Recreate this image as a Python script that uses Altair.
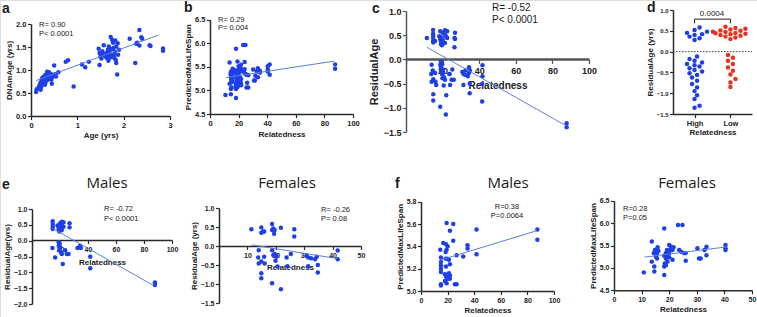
import altair as alt
import pandas as pd

BLUE = "#1f3fe6"
RED = "#e8331f"
FIT = "#5b7fe0"
AX = "#2a2a2a"
FONT = "Liberation Sans"
TITLE_FONT = "Open Sans"

# ---------- a: chronological age vs DNAm age ----------
a_age = [0.11, 0.12, 0.14, 0.18, 0.20, 0.21, 0.22, 0.23, 0.24, 0.25, 0.26, 0.27, 0.28, 0.29,
         0.30, 0.30, 0.31, 0.32, 0.33, 0.34, 0.34, 0.35, 0.36, 0.37, 0.38, 0.39, 0.40, 0.41,
         0.42, 0.43, 0.44, 0.44, 0.45, 0.46, 0.48, 0.50, 0.52, 0.54, 0.59, 0.25, 0.28, 0.32,
         0.36, 0.22, 0.27, 0.31, 0.35, 0.38,
         0.75, 0.80, 0.92, 1.10, 1.17, 1.25,
         1.46, 1.48, 1.48, 1.50, 1.52, 1.54, 1.57, 1.58, 1.60, 1.62, 1.63, 1.64, 1.66, 1.67,
         1.68, 1.69, 1.70, 1.71, 1.72, 1.73, 1.75, 1.76, 1.77, 1.78, 1.79, 1.80, 1.81, 1.82,
         1.83, 1.84, 1.84, 1.86, 1.87, 1.88, 1.90, 1.55, 1.65,
         2.13, 2.25, 2.27, 2.29, 2.34, 2.34, 2.38, 2.40, 2.56, 2.58, 2.85, 2.85]
a_dnam = [0.52, 0.57, 0.60, 0.66, 0.72, 0.57, 0.63, 0.77, 0.82, 0.73, 0.70, 0.85, 0.80, 0.76,
          0.88, 0.68, 0.80, 0.76, 0.84, 0.92, 0.82, 0.78, 0.87, 0.80, 0.84, 0.95, 0.86, 0.88,
          0.82, 0.90, 0.90, 0.79, 0.70, 0.85, 0.88, 1.10, 0.91, 0.86, 0.95, 0.78, 0.74, 0.89,
          0.93, 0.67, 0.81, 0.72, 0.96, 0.86,
          1.18, 1.21, 0.64, 1.12, 1.06, 1.18,
          1.46, 1.37, 1.11, 1.30, 1.25, 1.41, 1.54, 1.33, 1.31, 1.28, 1.37, 1.26, 1.44, 1.20,
          1.51, 1.34, 1.37, 1.27, 1.72, 1.45, 1.66, 1.30, 1.59, 1.48, 1.33, 1.26, 1.40, 1.64,
          1.22, 1.51, 1.15, 0.90, 1.58, 1.33, 1.44, 1.35, 1.32,
          1.68, 1.15, 1.57, 1.59, 1.53, 1.87, 1.71, 1.68, 1.54, 1.52, 1.47, 1.42]
a_fit_x = [0.11, 2.75]
a_fit_y = [0.77, 1.76]

# ---------- e: relatedness vs residual age, by sex ----------
em_rel = [14.8, 14.8, 14.8, 14.8, 18.2, 19.1, 19.6, 20.1, 21.3, 21.3, 22.5, 20.1, 19.1, 26.8,
          26.8, 22.5, 21.3, 18.9,
          14.6, 16.5, 19.1, 19.1, 19.6, 20.8, 21.3, 20.1, 22.0, 23.7, 24.9, 26.1, 32.5, 34.4,
          34.9, 41.6, 41.6, 87.8, 87.8, 19.8]
em_res = [0.61, 0.53, 0.44, 0.37, 0.48, 0.37, 0.29, 0.55, 0.51, 0.60, 0.44, 0.40, 0.32, 0.55,
          0.42, 0.58, 0.34, 0.44,
          -0.23, -0.53, -0.05, -0.16, -0.30, -0.37, -0.42, -0.21, -0.74, -0.30, -0.42, -0.42,
          -0.23, -0.16, -0.23, -0.51, -0.87, -1.32, -1.40, -0.10]
ef_rel = [11.4, 14.9, 15.5, 14.9, 15.9, 18.7, 19.1, 19.6, 18.7, 19.4, 21.8, 26.5, 26.5,
          14.0, 13.8, 14.0, 14.9, 15.9, 16.1, 14.9, 14.9, 18.7, 19.1, 19.6, 20.2, 20.2, 19.9,
          18.7, 21.8, 23.8, 25.3, 24.1, 30.8, 31.4, 32.4, 33.8, 34.4, 34.8, 34.8, 41.8, 41.8,
          31.4, 20.6]
ef_res = [0.44, 0.49, 0.38, 0.35, 0.38, 0.58, 0.46, 0.42, 0.42, 0.32, 0.48, 0.44, 0.25,
          -0.11, -0.30, -0.46, -0.41, -0.28, -0.46, -0.72, -0.85, -0.11, -0.24, -0.21, -0.24,
          -0.28, -0.39, -0.98, -1.14, -0.30, -0.21, -0.53, -0.26, -0.30, -0.32, -0.35, -0.28,
          -0.50, -0.70, -0.12, -0.35, -0.53, -0.54]
em_fit_x = [15, 87]
em_fit_y = [0.38, -1.42]
ef_fit_x = [11.5, 41.5]
ef_fit_y = [0.03, -0.33]

# ---------- f: relatedness vs predicted max lifespan, by sex ----------
fm_rel = [19.25, 24.25, 21.75, 41.75, 87.5, 87.5, 16.75, 18.75, 24.25, 20.0, 19.25, 14.5, 18.5,
          35.0, 35.0, 41.75, 26.75, 31.75, 15.0, 18.5, 21.0, 20.0, 15.0, 15.0, 21.75, 15.0, 15.0,
          18.75, 21.0, 21.75, 18.75, 20.0, 18.0, 21.75, 19.25, 15.0, 15.0, 25.5, 26.75, 18.0]
fm_pml = [5.61, 5.60, 5.54, 5.55, 5.55, 5.46, 5.43, 5.42, 5.45, 5.40, 5.37, 5.37, 5.35,
          5.41, 5.38, 5.33, 5.32, 5.31, 5.30, 5.29, 5.28, 5.29, 5.26, 5.23, 5.24, 5.20, 5.17,
          5.22, 5.16, 5.14, 5.13, 5.11, 5.09, 5.11, 5.07, 5.06, 5.05, 5.06, 5.06, 5.15]
ff_rel = [10.8, 13.7, 13.7, 14.4, 14.6, 14.6, 14.8, 15.6, 15.6, 15.8, 16.1, 15.2, 15.6, 18.2,
          18.2, 18.4, 18.2, 18.2, 18.8, 18.8, 19.2, 19.4, 19.4, 18.8, 20.0, 20.4, 20.6, 20.0,
          20.0, 21.2, 21.2, 21.6, 23.2, 24.8, 23.6, 24.4, 25.4, 26.0, 26.0, 30.2, 30.8, 31.4,
          32.8, 33.5, 33.5, 40.4, 40.4, 40.4]
ff_pml = [4.90, 5.59, 5.14, 5.33, 5.03, 4.92, 5.40, 5.41, 5.33, 5.46, 5.38, 5.25, 5.21, 5.88,
          5.27, 5.10, 5.03, 4.84, 5.33, 5.21, 5.40, 5.25, 5.14, 5.06, 5.51, 5.40, 5.47, 5.33,
          5.24, 5.40, 5.18, 5.46, 5.96, 5.96, 5.40, 5.36, 5.33, 5.33, 5.16, 5.44, 5.21, 5.21,
          5.40, 5.47, 5.28, 5.51, 5.44, 5.40]
fm_fit_x = [15.5, 87]
fm_fit_y = [5.28, 5.54]
ff_fit_x = [11, 41]
ff_fit_y = [5.24, 5.47]

# ---------- b / c: both sexes pooled ----------
b_rel = fm_rel + ff_rel
b_pml = fm_pml + ff_pml
b_fit_x = [11, 87]
b_fit_y = [5.27, 5.62]
c_rel = em_rel + ef_rel
c_res = em_res + ef_res
c_fit_x = [11.5, 87]
c_fit_y = [0.25, -1.36]

# ---------- d: residual age by relatedness group ----------
d_groups = ["High", "Low"]
d_high = [0.58, 0.52, 0.48, 0.45, 0.42, 0.40, 0.36, 0.32, 0.28, -0.12, -0.18, -0.22, -0.26,
          -0.30, -0.33, -0.36, -0.40, -0.44, -0.48, -0.52, -0.56, -0.62, -0.70, -0.78, -0.86,
          -0.95, -1.05, -1.14, -1.30, -1.35]
d_low = [0.60, 0.57, 0.55, 0.53, 0.51, 0.50, 0.48, 0.47, 0.45, 0.44, 0.43, 0.42, 0.40, 0.38,
         0.36, 0.34, 0.30, -0.08, -0.15, -0.22, -0.30, -0.38, -0.46, -0.55, -0.66, -0.74, -0.85]
d_pvalue = "0.0004"

W, H = 757, 317
DOT = 20


def scale(domain, rng):
    return alt.Scale(domain=domain, range=rng, nice=False, zero=False)


def axis(orient, offset, values, title, fmt=None, lab=7.5, tit=8, hide_zero=False,
         dom_w=1.5, dom_c=AX, label_expr=None, tick=3.5, lpad=1.5, tpad=2):
    kw = dict(orient=orient, offset=offset, values=values, title=title, grid=False,
              tickSize=tick, tickWidth=1.2, tickColor=dom_c, domainColor=dom_c,
              domainWidth=dom_w, labelFont=FONT, labelFontSize=lab, labelFontWeight="bold",
              labelColor="#222", titleFont=FONT, titleFontSize=tit, titleFontWeight="bold",
              titleColor="#222", labelPadding=lpad, titlePadding=tpad, minExtent=0,
              labelFlush=False, labelOverlap=False)
    if fmt:
        kw["format"] = fmt
    if hide_zero:
        kw["labelExpr"] = "datum.value == 0 ? '' : datum.label"
    if label_expr:
        kw["labelExpr"] = label_expr
    return alt.Axis(**kw)


def points(xv, yv, xs, ys, xa=None, ya=None, color=BLUE, size=DOT):
    df = pd.DataFrame({"x": xv, "y": yv})
    return alt.Chart(df).mark_circle(size=size, color=color, opacity=1).encode(
        x=alt.X("x:Q", scale=xs, axis=xa), y=alt.Y("y:Q", scale=ys, axis=ya))


def fit(xv, yv, xs, ys):
    df = pd.DataFrame({"x": xv, "y": yv})
    return alt.Chart(df).mark_line(color=FIT, strokeWidth=1).encode(
        x=alt.X("x:Q", scale=xs, axis=None), y=alt.Y("y:Q", scale=ys, axis=None))


def label(s, x, y, size=7.5, weight="normal", align="left", font=FONT):
    return alt.Chart(pd.DataFrame({"t": [s]})).mark_text(
        text=s, fontSize=size, fontWeight=weight, align=align, baseline="middle",
        font=font, color="#1a1a1a").encode(x=alt.value(x), y=alt.value(y))


def swarm(vals, py, px, d=5.0):
    """Beeswarm offsets (in x data units) so dots at similar values don't overlap."""
    order = sorted(range(len(vals)), key=lambda i: vals[i])
    placed, out = [], [0.0] * len(vals)
    for i in order:
        yy = vals[i] * py
        xx = 0.0
        for k in [0, 1, -1, 2, -2, 3, -3, 4, -4, 5, -5, 6, -6, 7, -7]:
            xx = k * d * 0.5
            if all((xx - a) ** 2 + (yy - b) ** 2 >= (d * 0.9) ** 2 for a, b in placed):
                break
        placed.append((xx, yy))
        out[i] = xx / px
    return out


layers = []

# panel a
xs, ys = scale([0, 3], [31, 170]), scale([0, 2], [116, 24])
layers.append(points(a_age, a_dnam, xs, ys,
                     axis("bottom", 116 - H, [0, 1, 2, 3], "Age (yrs)", tpad=3),
                     axis("left", -31, [0, 0.5, 1, 1.5, 2], "DNAmAge (yrs)", fmt=".1f")))
layers.append(fit(a_fit_x, a_fit_y, xs, ys))
layers += [label("a", 2, 9, 14, "bold"), label("R= 0.90", 39, 24.5), label("P< 0.0001", 39, 34)]

# panel b
xs, ys = scale([0, 100], [210, 353]), scale([4.5, 6.5], [114, 19.5])
layers.append(points(b_rel, b_pml, xs, ys,
                     axis("bottom", 114 - H, [0, 20, 40, 60, 80, 100], "Relatedness", tpad=4),
                     axis("left", -210, [4.5, 5, 5.5, 6, 6.5], "PredictedMaxLifeSpan", fmt=".1f")))
layers.append(fit(b_fit_x, b_fit_y, xs, ys))
layers += [label("b", 184, 8, 14, "bold"), label("R= 0.29", 218, 19.5), label("P= 0.004", 218, 28)]

# panel c
xs, ys = scale([0, 100], [406, 589]), scale([-1.5, 1.0], [132, 11])
layers.append(points(c_rel, c_res, xs, ys,
                     axis("bottom", 59 - H, [0, 20, 40, 60, 80, 100], "Relatedness", lab=9, tit=10,
                          hide_zero=True, dom_w=2.5, dom_c="#555", tick=4.5, lpad=3, tpad=5),
                     axis("left", -406, [-1.5, -1, -0.5, 0, 0.5, 1], "ResidualAge", fmt=".1f",
                          lab=9, tit=11, dom_c="#555", tpad=4)))
layers.append(fit(c_fit_x, c_fit_y, xs, ys))
layers += [label("c", 372, 9, 14, "bold"), label("R= -0.52", 492, 8, 10),
           label("P< 0.0001", 492, 20, 10)]

# panel d
d_ypx, d_xpx = (114 - 10) / 2.5, (752 - 673) / 2.2
xs, ys = scale([0.4, 2.6], [673, 752]), scale([-1.5, 1.0], [114, 10])
hi_x = [1 + o for o in swarm(d_high, d_ypx, d_xpx)]
lo_x = [2 + o for o in swarm(d_low, d_ypx, d_xpx)]
zero_df = pd.DataFrame({"x": [0.4], "x2": [2.6], "y": [0]})
layers.append(alt.Chart(zero_df).mark_rule(color="#444", strokeDash=[1.5, 1.5], strokeWidth=1).encode(
    x=alt.X("x:Q", scale=xs, axis=None), x2="x2", y=alt.Y("y:Q", scale=ys, axis=None)))
layers.append(points(hi_x, d_high, xs, ys,
                     axis("bottom", 114 - H, [1, 2], "Relatedness",
                          label_expr="datum.value == 1 ? 'High' : 'Low'"),
                     axis("left", -673, [-1.5, -1, -0.5, 0, 0.5, 1], "ResidualAge (yrs)",
                          fmt=".1f", lab=6)))
layers.append(points(lo_x, d_low, xs, ys, None, None, color=RED))
br_df = pd.DataFrame({"x": [1, 1, 2, 2], "y": [0.68, 0.78, 0.78, 0.68], "o": [0, 1, 2, 3]})
layers.append(alt.Chart(br_df).mark_line(color="#222", strokeWidth=1).encode(
    x=alt.X("x:Q", scale=xs, axis=None), y=alt.Y("y:Q", scale=ys, axis=None), order="o:Q"))
layers += [label("d", 647, 8, 14, "bold"), label(d_pvalue, 712, 14, 8, align="center")]

# panel e males
xs, ys = scale([0, 100], [32, 172]), scale([-2, 1], [304, 209])
layers.append(points(em_rel, em_res, xs, ys,
                     axis("bottom", 240 - H, [0, 20, 40, 60, 80, 100], "Relatedness", lab=7,
                          hide_zero=True, tpad=6),
                     axis("left", -32, [-2, -1.5, -1, -0.5, 0, 0.5, 1], "ResidualAge(yrs)",
                          fmt=".1f", lab=7)))
layers.append(fit(em_fit_x, em_fit_y, xs, ys))
layers += [label("e", 2, 185, 14, "bold"), label("Males", 107, 183, 15, font=TITLE_FONT, align="center"),
           label("R= -0.72", 104, 208.5), label("P< 0.0001", 104, 219)]

# panel e females
xs, ys = scale([0, 50], [219, 361]), scale([-1.5, 1], [303, 208])
layers.append(points(ef_rel, ef_res, xs, ys,
                     axis("bottom", 246 - H, [0, 10, 20, 30, 40, 50], "Relatedness", lab=7,
                          hide_zero=True, tpad=5),
                     axis("left", -219, [-1.5, -1, -0.5, 0, 0.5, 1], "ResidualAge (yrs)",
                          fmt=".1f", lab=7)))
layers.append(fit(ef_fit_x, ef_fit_y, xs, ys))
layers += [label("Females", 287, 183, 15, font=TITLE_FONT, align="center"),
           label("R= -0.26", 321, 210), label("P= 0.08", 321, 219)]

# panel f males
xs, ys = scale([0, 100], [421, 554]), scale([5.0, 5.8], [291, 201.7])
layers.append(points(fm_rel, fm_pml, xs, ys,
                     axis("bottom", 291 - H, [0, 20, 40, 60, 80, 100], "Relatedness", lab=7, tpad=3),
                     axis("left", -421, [5.0, 5.2, 5.4, 5.6, 5.8], "PredictedMaxLifeSpan",
                          fmt=".1f", lab=7)))
layers.append(fit(fm_fit_x, fm_fit_y, xs, ys))
layers += [label("f", 395, 184, 14, "bold"), label("Males", 508, 183, 15, font=TITLE_FONT, align="center"),
           label("R=0.38", 507, 207, align="center"), label("P=0.0064", 507, 216, align="center")]

# panel f females
xs, ys = scale([0, 50], [614, 752]), scale([4.5, 6.5], [290.3, 200.7])
layers.append(points(ff_rel, ff_pml, xs, ys,
                     axis("bottom", 290.3 - H, [0, 10, 20, 30, 40, 50], "Relatedness", lab=7, tpad=3),
                     axis("left", -614, [4.5, 5.0, 5.5, 6.0, 6.5], "PredictedMaxLifeSpan",
                          fmt=".1f", lab=7)))
layers.append(fit(ff_fit_x, ff_fit_y, xs, ys))
layers += [label("Females", 687, 183, 15, font=TITLE_FONT, align="center"),
           label("R=0.28", 623, 209), label("P=0.05", 623, 218)]

chart = alt.layer(*layers).resolve_scale(x="independent", y="independent").properties(
    width=W, height=H, padding=0, autosize=alt.AutoSizeParams(type="none")
).configure_view(stroke=None).configure(background="white")

chart.save("out.html", embed_options={"renderer": "svg", "actions": False})
